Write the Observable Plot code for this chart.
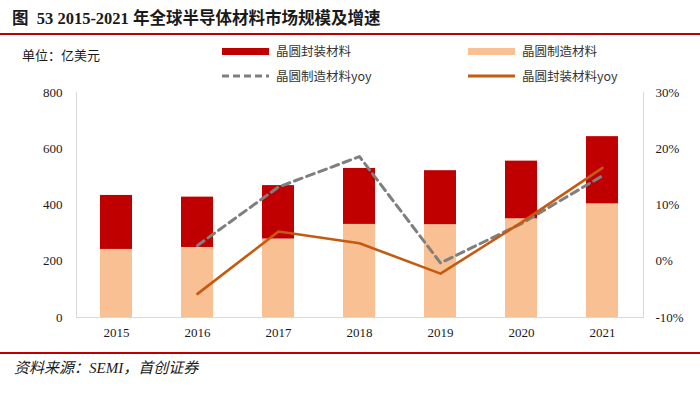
<!DOCTYPE html>
<html><head><meta charset="utf-8">
<script src="https://cdn.jsdelivr.net/npm/d3@7"></script>
<script src="https://cdn.jsdelivr.net/npm/@observablehq/plot@0.6"></script>
<style>
body{margin:0;background:#fff;}
#wrap{position:relative;width:700px;height:395px;overflow:hidden;font-family:"Noto Sans CJK SC","Liberation Serif",sans-serif;color:#1a1a1a;}
.abs{position:absolute;white-space:nowrap;}
#title{left:12px;top:8px;font-size:16.5px;font-weight:bold;line-height:22px;font-family:"Liberation Serif","Noto Sans CJK SC",serif;}
.rule{position:absolute;left:0;width:700px;background:#C00000;}
.leg{font-size:12.5px;line-height:16px;display:flex;align-items:center;color:#333;}
.leg svg{margin-right:7px;}
#src{left:14px;top:358px;font-size:15px;font-style:italic;line-height:20px;font-family:"Liberation Serif","Noto Sans CJK SC",serif;}
#chart{position:absolute;left:0;top:80px;}
</style></head><body>
<div id="wrap">
  <div id="title" class="abs">图&nbsp; 53 2015-2021 年全球半导体材料市场规模及增速</div>
  <div class="rule" style="top:33px;height:2px;"></div>
  <div class="abs" style="left:22px;top:46px;font-size:13px;line-height:18px;">单位：亿美元</div>
  <div id="legend"></div>
  <div id="chart"></div>
  <div class="rule" style="top:352px;height:2px;"></div>
  <div id="src" class="abs">资料来源：SEMI，首创证券</div>
</div>
<script>
const years = ["2015","2016","2017","2018","2019","2020","2021"];
const waferMaterials = [242, 249, 279, 331, 330, 351, 404];
const packagingMaterials = [192, 179, 190, 199, 192, 205, 239];
const waferYoy = [null, 2.8, 13.2, 18.6, -0.3, 6.7, 15.2];
const packagingYoy = [null, -5.8, 5.3, 3.2, -2.2, 6.9, 16.6];
const leftTicks = [0, 200, 400, 600, 800];
const rightTicks = [-10, 0, 10, 20, 30];
const seriesNames = ["晶圆制造材料", "晶圆封装材料", "晶圆制造材料yoy", "晶圆封装材料yoy"];
const colors = {wafer:"#F9C193", pack:"#C00000", waferYoy:"#7F7F7F", packYoy:"#C55A11"};

const leftMax = 800, rightMin = -10, rightMax = 30;
const toLeft = p => (p - rightMin) * leftMax / (rightMax - rightMin);

const bars = [];
years.forEach((y, i) => {
  bars.push({year: y, series: seriesNames[0], value: waferMaterials[i]});
  bars.push({year: y, series: seriesNames[1], value: packagingMaterials[i]});
});
const yoy = years.map((y, i) => ({year: y, w: waferYoy[i], p: packagingYoy[i]})).filter(d => d.w != null);

// legend
const legendItems = [
  {name: seriesNames[1], x: 222, y: 43, type: "bar", color: colors.pack},
  {name: seriesNames[0], x: 468, y: 43, type: "bar", color: colors.wafer},
  {name: seriesNames[2], x: 222, y: 68, type: "dash", color: colors.waferYoy},
  {name: seriesNames[3], x: 468, y: 68, type: "line", color: colors.packYoy}
];
const legend = document.getElementById("legend");
legendItems.forEach(it => {
  const d = document.createElement("div");
  d.className = "abs leg";
  d.style.left = it.x + "px"; d.style.top = it.y + "px";
  let sw;
  if (it.type === "bar") sw = `<svg width="47" height="16"><rect x="0" y="5" width="47" height="7" fill="${it.color}"/></svg>`;
  else if (it.type === "dash") sw = `<svg width="47" height="16"><line x1="0" x2="47" y1="8" y2="8" stroke="${it.color}" stroke-width="3" stroke-dasharray="7,4"/></svg>`;
  else sw = `<svg width="47" height="16"><line x1="0" x2="47" y1="8" y2="8" stroke="${it.color}" stroke-width="3"/></svg>`;
  d.innerHTML = sw + `<span>${it.name}</span>`;
  legend.appendChild(d);
});

const chart = Plot.plot({
  width: 700, height: 265,
  marginLeft: 76, marginRight: 57, marginTop: 12, marginBottom: 28,
  x: {domain: years, paddingInner: 0.6, paddingOuter: 0.3, label: null},
  y: {domain: [0, leftMax], label: null},
  color: {domain: [seriesNames[0], seriesNames[1]], range: [colors.wafer, colors.pack]},
  style: {fontFamily: "Liberation Serif, serif", fontSize: "13px", color: "#1a1a1a", background: "transparent"},
  marks: [
    Plot.barY(bars, {x: "year", y: "value", fill: "series"}),
    Plot.frame({anchor: "left", stroke: "#d9d9d9"}),
    Plot.frame({anchor: "right", stroke: "#d9d9d9"}),
    Plot.ruleY([0], {stroke: "#d9d9d9"}),
    Plot.axisX({tickSize: 0, tickPadding: 10, label: null}),
    Plot.axisY({ticks: leftTicks, tickSize: 0, tickPadding: 14, label: null}),
    Plot.axisY({anchor: "right", ticks: rightTicks.map(toLeft), tickFormat: d => `${Math.round(d * (rightMax - rightMin) / leftMax + rightMin)}%`, tickSize: 0, tickPadding: 12, label: null}),
    Plot.lineY(yoy, {x: "year", y: d => toLeft(d.w), stroke: colors.waferYoy, strokeWidth: 3, strokeDasharray: "8,5"}),
    Plot.lineY(yoy, {x: "year", y: d => toLeft(d.p), stroke: colors.packYoy, strokeWidth: 2.6})
  ]
});
document.getElementById("chart").appendChild(chart);
</script>
</body></html>
